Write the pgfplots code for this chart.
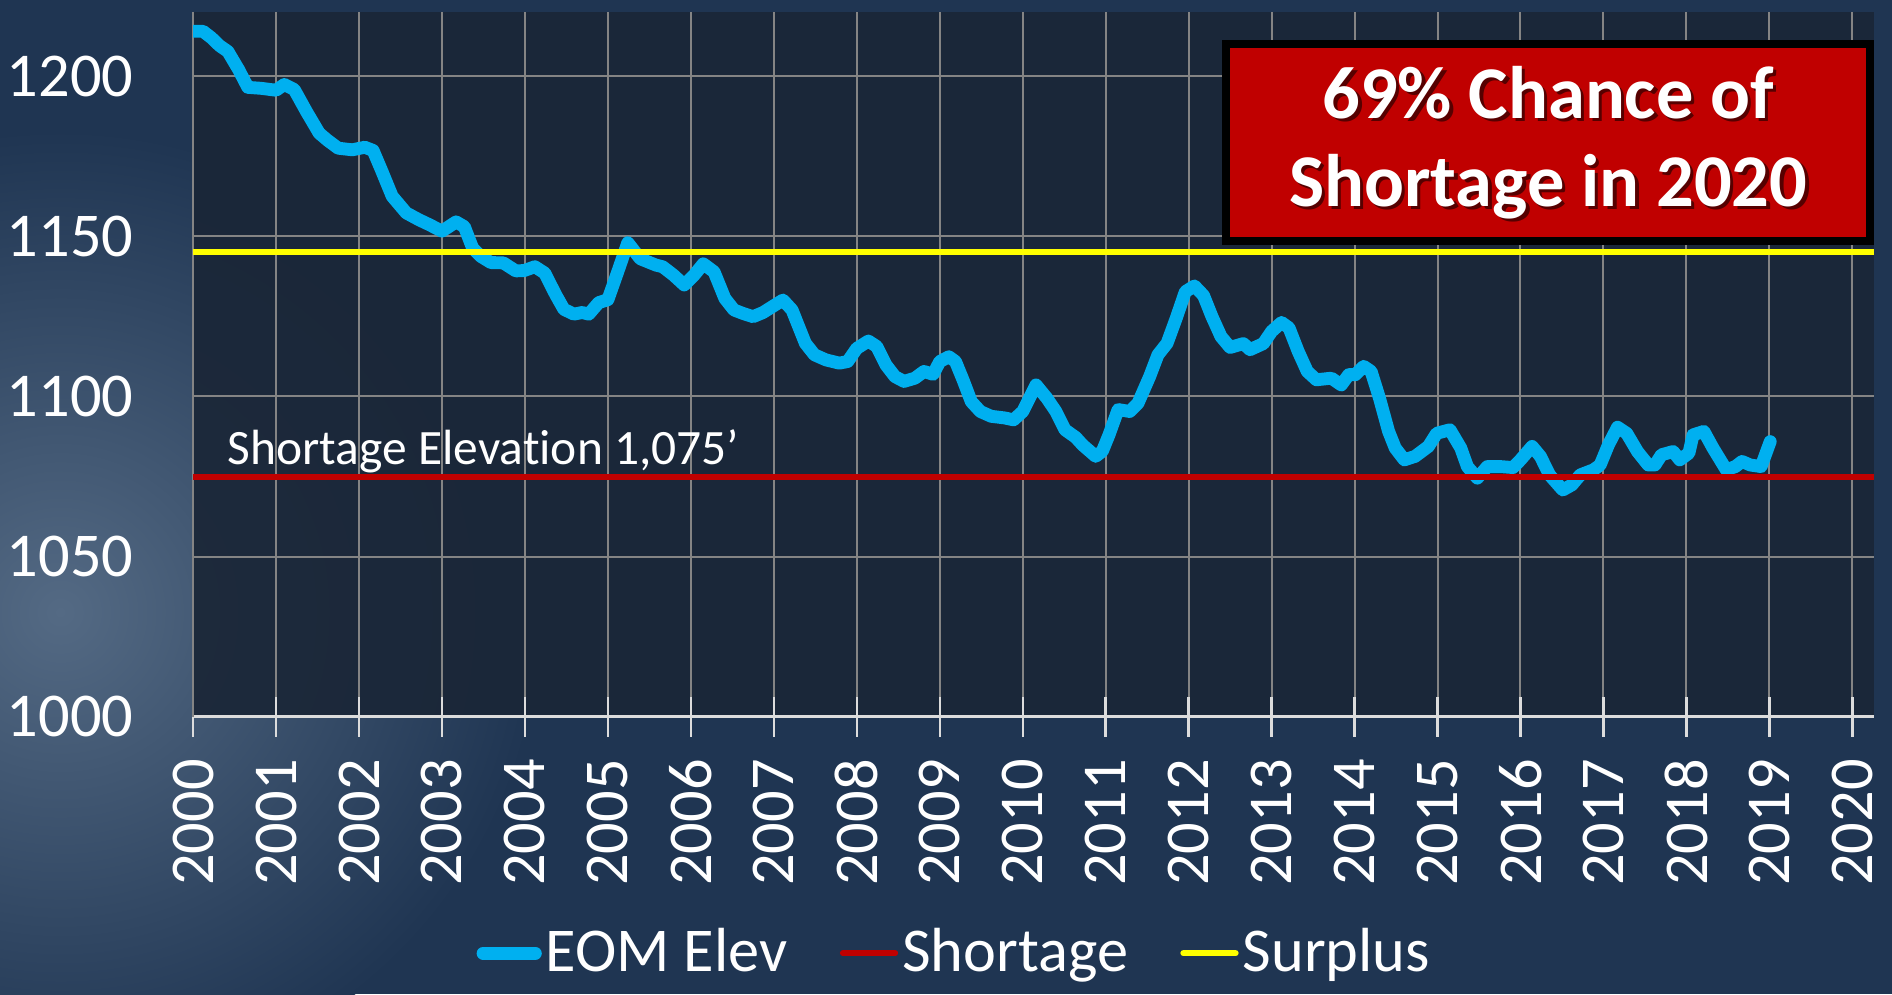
\documentclass[border=0pt]{standalone}
\usepackage{pgfplots}
\pgfplotsset{compat=1.18}
\usepackage{fontspec}
\setmainfont{Carlito}[Ligatures=NoCommon]

\definecolor{eomBlue}{RGB}{0,176,240}
\definecolor{shortRed}{RGB}{192,0,0}
\definecolor{surplusYellow}{RGB}{255,255,0}
\definecolor{bgBase}{RGB}{31,53,82}
\definecolor{bgGlow}{RGB}{84,106,132}
\definecolor{plotBg}{RGB}{26,38,55}
\definecolor{gridGray}{RGB}{132,132,132}
\definecolor{axisWhite}{RGB}{220,220,220}

\begin{document}
\begin{tikzpicture}
    \useasboundingbox (0,0) rectangle (470.4pt,247.2pt);
    % background
    \fill[bgBase] (0,0) rectangle (470.4pt,247.2pt);
    \shade[inner color=bgGlow, outer color=bgBase] (15pt,95pt) circle (120pt);

    \begin{axis}[
            at={(48pt,69pt)},
            anchor=south west,
            scale only axis,
            width=417.9pt,
            height=175.2pt,
            xmin=2000, xmax=2020.26,
            ymin=1000, ymax=1220,
            xtick={2000,2001,...,2020},
            ytick={1000,1050,...,1200},
            /pgf/number format/.cd, 1000 sep={}, assume math mode=true,
            /pgfplots/.cd,
            axis background/.style={fill=plotBg, fill opacity=0.92},
            grid=major,
            major grid style={gridGray, line width=0.5pt},
            axis x line*=bottom,
            axis y line*=left,
            x axis line style={axisWhite, line width=0.8pt, -},
            y axis line style={gridGray, line width=0.5pt, -},
            tick align=center,
            major tick length=10pt,
            xtick style={axisWhite, line width=0.6pt},
            ytick style={draw=none},
            tick label style={text=white, font=\fontsize{15.5}{18}\selectfont},
            xticklabel style={rotate=90, anchor=east, inner sep=0pt},
            xticklabel shift=5.4pt,
            yticklabel style={anchor=west, inner sep=0pt},
            yticklabel shift=41.5pt,
            legend columns=3,
            legend style={
                    at={(0.4535,-0.3356)},
                    anchor=center,
                    draw=none,
                    fill=none,
                    text=white,
                    font=\fontsize{15.5}{18}\selectfont,
                    nodes={inner sep=1pt},
                    /tikz/every even column/.append style={column sep=12pt},
                },
            legend image code/.code={\draw[#1, line cap=round] (0pt,0pt) -- (13pt,0pt);},
        ]

        % end-of-month elevation
        \addplot[eomBlue, line width=3.2pt, line join=round, line cap=round] coordinates {
                (2000.00,1214) (2000.12,1214) (2000.22,1212) (2000.32,1209.5)
                (2000.42,1207.7) (2000.55,1202) (2000.66,1196.5) (2000.82,1196.2)
                (2001.00,1195.6) (2001.10,1197.4) (2001.22,1195.8) (2001.37,1188.8)
                (2001.52,1182.2) (2001.62,1180) (2001.75,1177.5) (2001.92,1177)
                (2002.07,1177.8) (2002.17,1176.8) (2002.27,1170.7) (2002.40,1162.5)
                (2002.57,1157.3) (2002.72,1155.2) (2002.85,1153.6) (2003.00,1151.6)
                (2003.17,1154.5) (2003.27,1153) (2003.37,1146.3) (2003.47,1143.7)
                (2003.59,1141.8) (2003.74,1141.7) (2003.89,1139.2) (2003.99,1139.3)
                (2004.12,1140.5) (2004.24,1138.5) (2004.37,1131.8) (2004.47,1127.2)
                (2004.59,1125.7) (2004.69,1126.2) (2004.77,1125.7) (2004.89,1129.3)
                (2005.00,1130.2) (2005.12,1139) (2005.24,1148) (2005.39,1143)
                (2005.58,1141) (2005.66,1140.5) (2005.79,1137.9) (2005.92,1134.8)
                (2006.04,1137.9) (2006.15,1141.4) (2006.28,1138.9) (2006.41,1130.6)
                (2006.52,1127) (2006.63,1125.9) (2006.75,1124.9) (2006.87,1126.2)
                (2006.98,1128) (2007.11,1130.1) (2007.22,1127) (2007.38,1116.6)
                (2007.49,1113) (2007.63,1111.4) (2007.79,1110.4) (2007.89,1110.9)
                (2008.00,1115) (2008.14,1117.3) (2008.24,1115.6) (2008.35,1109.9)
                (2008.46,1106.2) (2008.57,1104.7) (2008.70,1105.7) (2008.81,1107.8)
                (2008.92,1106.9) (2009.00,1110.9) (2009.11,1112.4) (2009.19,1110.9)
                (2009.28,1105.2) (2009.38,1098.4) (2009.49,1095.3) (2009.62,1093.8)
                (2009.78,1093.3) (2009.89,1092.7) (2010.00,1095.3) (2010.16,1103.6)
                (2010.29,1099.5) (2010.40,1095.3) (2010.51,1089.6) (2010.64,1087.2)
                (2010.72,1084.9) (2010.88,1081.3) (2010.96,1082.9) (2011.04,1088)
                (2011.15,1095.9) (2011.29,1095.3) (2011.39,1097.9) (2011.53,1106.2)
                (2011.63,1113) (2011.74,1116.6) (2011.85,1124.4) (2011.96,1132.7)
                (2012.07,1134.5) (2012.18,1131.5) (2012.28,1125) (2012.39,1118.7)
                (2012.50,1115.3) (2012.66,1116.5) (2012.74,1114.6) (2012.90,1116.5)
                (2013.00,1120.3) (2013.12,1123.1) (2013.21,1121.4) (2013.32,1114.1)
                (2013.43,1107.8) (2013.54,1105.2) (2013.72,1105.7) (2013.84,1103.6)
                (2013.93,1106.8) (2014.01,1106.8) (2014.11,1109.4) (2014.20,1107.8)
                (2014.30,1099.5) (2014.41,1089.1) (2014.49,1083.9) (2014.60,1080.2)
                (2014.73,1081.3) (2014.89,1084.4) (2014.99,1088.5) (2015.15,1089.6)
                (2015.28,1083.9) (2015.36,1078.1) (2015.48,1074.5) (2015.60,1078.1)
                (2015.76,1078.1) (2015.91,1077.8) (2016.00,1080.2) (2016.14,1084.4)
                (2016.24,1081.3) (2016.35,1075.5) (2016.51,1070.8) (2016.62,1072.4)
                (2016.72,1075.5) (2016.88,1077.1) (2016.96,1078.6) (2017.06,1084.9)
                (2017.17,1090.4) (2017.28,1088.5) (2017.41,1082.8) (2017.54,1078.6)
                (2017.62,1078.6) (2017.70,1081.8) (2017.84,1082.8) (2017.92,1080.2)
                (2018.03,1082.3) (2018.08,1088) (2018.21,1089.1) (2018.32,1083.9)
                (2018.48,1077.1) (2018.59,1078.1) (2018.67,1079.7) (2018.77,1078.6)
                (2018.90,1078.1) (2019.01,1085.9)
            };
        \addlegendentry{EOM Elev}

        % shortage threshold
        \addplot[shortRed, line width=1.5pt] coordinates {(2000,1075) (2020.26,1075)};
        \addlegendentry{Shortage}

        % surplus threshold
        \addplot[surplusYellow, line width=1.5pt] coordinates {(2000,1145) (2020.26,1145)};
        \addlegendentry{Surplus}

        \node[anchor=base west, text=white, inner sep=0pt,
            font=\fontsize{12.3}{14}\selectfont]
        at (axis cs:2000.41,1078.6) {Shortage Elevat\kern0pt ion 1,075’};
    \end{axis}

    % callout box
    \node[draw=black, line width=2pt, fill=shortRed, minimum width=160pt,
        minimum height=49pt, inner sep=0pt] (box) at (384.9pt,211.8pt) {};
    \node[align=center, text=black, opacity=0.55,
        font=\bfseries\fontsize{18.5}{21.9}\selectfont]
    at ([xshift=0.9pt,yshift=-0.9pt]box.center) {69\% Chance of\\Shortage in 2020};
    \node[align=center, text=white,
        font=\bfseries\fontsize{18.5}{21.9}\selectfont]
    at (box.center) {69\% Chance of\\Shortage in 2020};
\end{tikzpicture}
\end{document}
